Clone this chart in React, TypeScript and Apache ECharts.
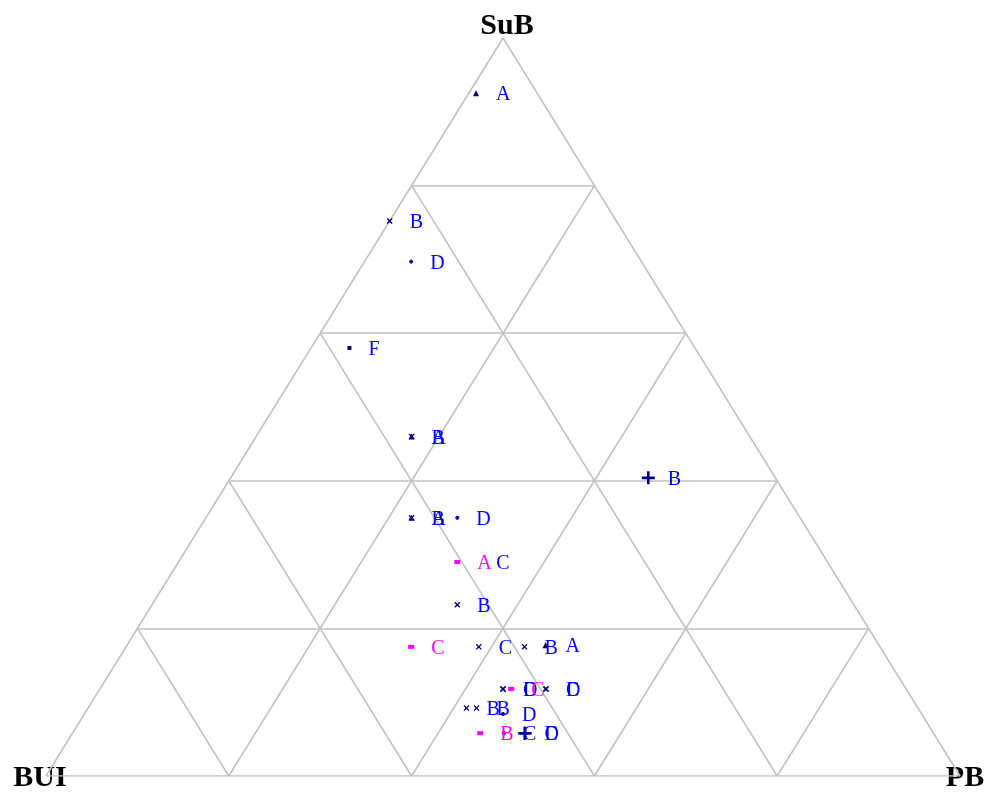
import React, { useEffect, useRef } from "react";
import * as echarts from "echarts";

// Ternary data: [label, SuB, BUI, PB]
type Pt = [string, number, number, number];

const AXIS_TITLES = ["SuB", "BUI", "PB"];
const GRID_STEPS = [0, 0.2, 0.4, 0.6, 0.8];

const trianglePoints: Pt[] = [
  ["A", 0.925, 0.067, 0.008],
  ["A", 0.46, 0.37, 0.17],
  ["A", 0.35, 0.425, 0.225],
  ["A", 0.177, 0.365, 0.458],
];

const crossPoints: Pt[] = [
  ["B", 0.752, 0.248, 0.0],
  ["B", 0.46, 0.37, 0.17],
  ["B", 0.35, 0.425, 0.225],
  ["B", 0.232, 0.434, 0.334],
  ["C", 0.175, 0.439, 0.386],
  ["B", 0.175, 0.389, 0.436],
  ["D", 0.118, 0.441, 0.441],
  ["C", 0.118, 0.441, 0.441],
  ["C", 0.118, 0.394, 0.488],
  ["D", 0.118, 0.394, 0.488],
  ["B", 0.092, 0.494, 0.414],
  ["B", 0.092, 0.483, 0.425],
];

const dotPoints: Pt[] = [
  ["D", 0.697, 0.252, 0.051],
  ["D", 0.35, 0.375, 0.275],
  ["D", 0.084, 0.458, 0.458],
  ["C", 0.058, 0.47, 0.472],
];

const farLabelPoints: Pt[] = [["C", 0.29, 0.405, 0.305]];

const squarePoints: Pt[] = [["F", 0.58, 0.378, 0.042]];

const plusPoints: Pt[] = [
  ["B", 0.404, 0.139, 0.457],
  ["C", 0.058, 0.447, 0.495],
  ["D", 0.058, 0.447, 0.495],
];

const magentaPoints: Pt[] = [
  ["A", 0.29, 0.405, 0.305],
  ["C", 0.175, 0.513, 0.312],
  ["C", 0.118, 0.432, 0.45],
  ["B", 0.058, 0.496, 0.446],
];

function toXY(sub: number, bui: number, pb: number): [number, number] {
  const s = sub + bui + pb;
  return [(pb + sub / 2) / s, sub / s];
}

const CROSS = "path://M0,1.6L1.6,0L5,3.4L8.4,0L10,1.6L6.6,5L10,8.4L8.4,10L5,6.6L1.6,10L0,8.4L3.4,5Z";
const PLUS = "path://M4,0H6V4H10V6H6V10H4V6H0V4H4Z";

const NAVY = "#000080";
const BLUE = "#0000FF";
const MAGENTA = "#FF00FF";
const FONT = '"Liberation Serif", "DejaVu Serif", serif';

function scatter(pts: Pt[], symbol: string, size: number | number[], markerColor: string, labelColor: string, distance = 14, z = 3) {
  return {
    type: "scatter",
    symbol,
    symbolSize: size,
    clip: false,
    z,
    itemStyle: { color: markerColor, opacity: 1 },
    label: {
      show: true,
      position: "right",
      distance,
      formatter: "{b}",
      color: labelColor,
      fontFamily: FONT,
      fontSize: 20,
    },
    emphasis: { disabled: true },
    labelLayout: { hideOverlap: false },
    data: pts.map((p) => ({ name: p[0], value: toXY(p[1], p[2], p[3]) })),
  };
}

export default function App() {
  const ref = useRef<HTMLDivElement>(null);
  useEffect(() => {
    if (!ref.current) return;
    const chart = echarts.init(ref.current, undefined, { renderer: "svg" });

    const segs: number[][][] = [];
    GRID_STEPS.forEach((k) => {
      segs.push([[k / 2, k], [1 - k / 2, k]]); // constant SuB
      segs.push([[k, 0], [(1 + k) / 2, 1 - k]]); // constant PB
      segs.push([[1 - k, 0], [(1 - k) / 2, 1 - k]]); // constant BUI
    });

    chart.setOption({
      animation: false,
      grid: { left: 46, right: 26, top: 38, bottom: 16 },
      xAxis: { type: "value", min: 0, max: 1, show: false },
      yAxis: { type: "value", min: 0, max: 1, show: false },
      graphic: [
        { type: "text", x: 507, y: 23, style: { text: AXIS_TITLES[0], font: `bold 30px ${FONT}`, textAlign: "center", textVerticalAlign: "middle", fill: "#000" } },
        { type: "text", x: 40, y: 775, style: { text: AXIS_TITLES[1], font: `bold 30px ${FONT}`, textAlign: "center", textVerticalAlign: "middle", fill: "#000" } },
        { type: "text", x: 965, y: 775, style: { text: AXIS_TITLES[2], font: `bold 30px ${FONT}`, textAlign: "center", textVerticalAlign: "middle", fill: "#000" } },
      ],
      series: [
        {
          type: "lines",
          coordinateSystem: "cartesian2d",
          silent: true,
          z: 1,
          lineStyle: { color: "#c0c0c0", width: 1.6, opacity: 1 },
          data: segs.map((c) => ({ coords: c })),
        },
        scatter(farLabelPoints, "circle", 4, NAVY, BLUE, 37),
        scatter(trianglePoints, "triangle", 6, NAVY, BLUE, 17),
        scatter(crossPoints, CROSS, 6, NAVY, BLUE, 17),
        scatter(dotPoints, "circle", 4, NAVY, BLUE, 17),
        scatter(squarePoints, "rect", 4, NAVY, BLUE, 17),
        scatter(plusPoints, PLUS, 13, NAVY, BLUE, 13),
        scatter(magentaPoints, "rect", [6, 4], MAGENTA, MAGENTA, 17, 4),
      ],
    });
    return () => chart.dispose();
  }, []);
  return <div ref={ref} style={{ position: "fixed", left: 0, top: 0, width: 986, height: 792 }} />;
}
